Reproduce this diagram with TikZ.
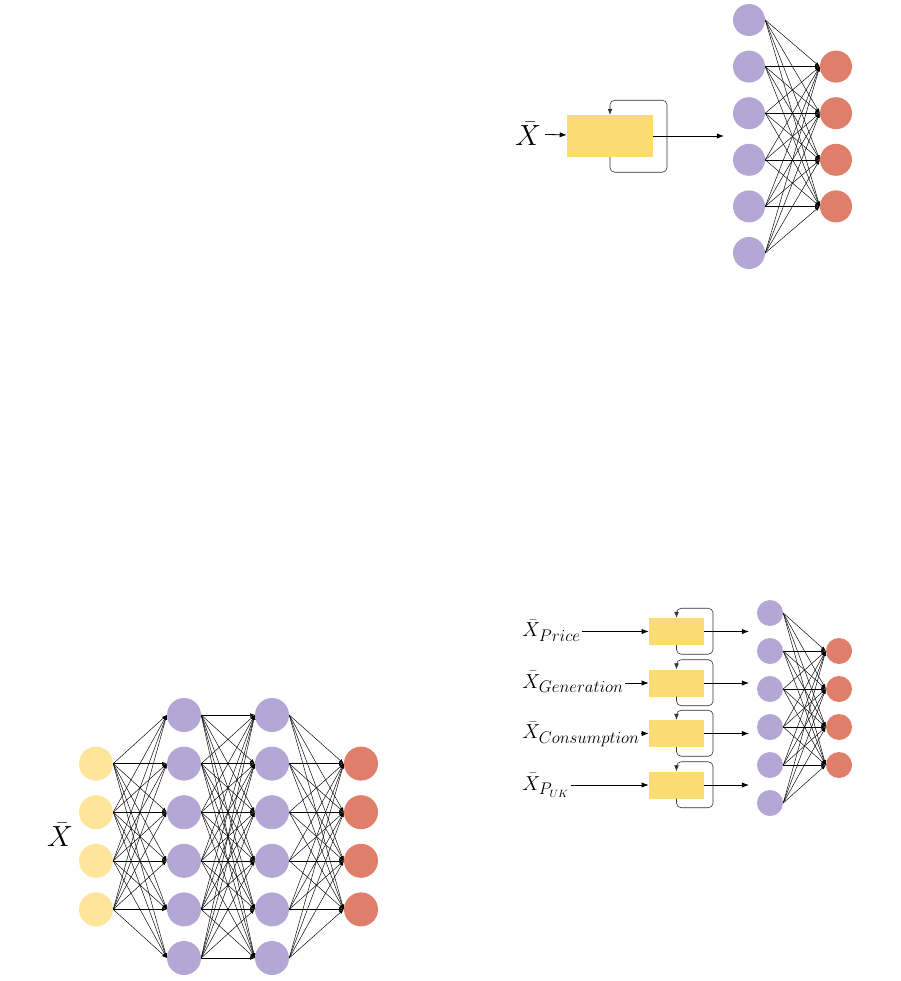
\documentclass[tikz,border=0pt]{standalone}
\usepackage{tikz}
\usetikzlibrary{
        arrows.meta,
        positioning
    }
\definecolor{boxyellow}{HTML}{FDDC75}
\definecolor{inyellow}{HTML}{FFE49B}
\definecolor{hidpurple}{HTML}{B4A7D6}
\definecolor{outred}{HTML}{DF7E6B}

\begin{document}
\begin{tikzpicture}
[x=0.03cm, y=-0.03cm,
neuron/.style={circle, draw=none, inner sep=0pt},
inp/.style={neuron, fill=inyellow},
hid/.style={neuron, fill=hidpurple},
outp/.style={neuron, fill=outred},
rnnbox/.style={rectangle, fill=boxyellow, inner sep=0pt},
biglabel/.style={font=\fontsize{24}{28}\selectfont},
smalllabel/.style={font=\fontsize{16}{19}\selectfont, inner sep=1pt},
edge/.style={line width=0.4pt, -{Latex[length=4pt,width=3pt]}},
arrow/.style={line width=0.7pt, -{Latex[length=6pt,width=4.5pt]}},
loopline/.style={line width=0.5pt, black!80, rounded corners=4pt, -{Latex[length=5pt,width=4pt]}},
]
    \useasboundingbox (0,0) rectangle (901,981);

    % top: single recurrent block feeding a dense layer
    \node (tx) [biglabel] at (528,134) {$\bar{X}$};
    \node (trnn) [rnnbox, minimum width=2.58cm, minimum height=1.26cm] at (610,136) {};
    \coordinate (tout) at (724,136);
    \draw[arrow] (tx) -- (trnn);
    \draw[arrow] (trnn) -- (tout);
    \draw[loopline] (trnn.south) -- ++(0,15) -- ++(57,0) -- ++(0,-72) -- ++(-57,0) -- (trnn.north);

    \foreach \i in {1,...,6}
        \node (th\i) [hid, minimum size=0.96cm] at (749, {20+46.6*(\i-1)}) {};
    \foreach \j in {1,...,4}
        \node (to\j) [outp, minimum size=0.96cm] at (836, {66.6+46.6*(\j-1)}) {};
    \foreach \i in {1,...,6}
        \foreach \j in {1,...,4}
            \draw[edge] (th\i.east) -- (to\j.west);

    % bottom left: deep feed-forward network
    \node (dx) [biglabel] at (60,835) {$\bar{X}$};
    \foreach \j in {1,...,4}
        \node (di\j) [inp, minimum size=1.02cm] at (96, {763.6+48.6*(\j-1)}) {};
    \foreach \i in {1,...,6} {
        \node (dh\i) [hid, minimum size=1.02cm] at (184, {715+48.6*(\i-1)}) {};
        \node (dg\i) [hid, minimum size=1.02cm] at (272, {715+48.6*(\i-1)}) {};
    }
    \foreach \j in {1,...,4}
        \node (do\j) [outp, minimum size=1.02cm] at (361, {763.6+48.6*(\j-1)}) {};
    \foreach \i in {1,...,6} {
        \foreach \j in {1,...,4} {
            \draw[edge] (di\j.east) -- (dh\i.west);
            \draw[edge] (dg\i.east) -- (do\j.west);
        }
        \foreach \k in {1,...,6}
            \draw[edge] (dh\i.east) -- (dg\k.west);
    }

    % bottom right: one recurrent block per input series
    \foreach \lab/\y [count=\k] in {Price/631.5, Generation/683, Consumption/733.5, {P_{UK}}/785} {
        \node (ml\k) [smalllabel, anchor=base west] at (521, \y+5) {$\bar{X}_{\mbox{\fontsize{13.5}{16}\selectfont$\lab$}}$};
        \node (mr\k) [rnnbox, minimum width=1.65cm, minimum height=0.81cm] at (676.5,\y) {};
        \coordinate (mout\k) at (749,\y);
        \draw[arrow] (ml\k.east |- mr\k.west) -- (mr\k.west);
        \draw[arrow] (mr\k.east) -- (mout\k);
        \draw[loopline] (mr\k.south) -- ++(0,9) -- ++(36.5,0) -- ++(0,-46) -- ++(-36.5,0) -- (mr\k.north);
    }
    \foreach \i in {1,...,6}
        \node (mh\i) [hid, minimum size=0.78cm] at (770, {613+38*(\i-1)}) {};
    \foreach \j in {1,...,4}
        \node (mo\j) [outp, minimum size=0.78cm] at (839, {651+38*(\j-1)}) {};
    \foreach \i in {1,...,6}
        \foreach \j in {1,...,4}
            \draw[edge] (mh\i.east) -- (mo\j.west);
\end{tikzpicture}
\end{document}
